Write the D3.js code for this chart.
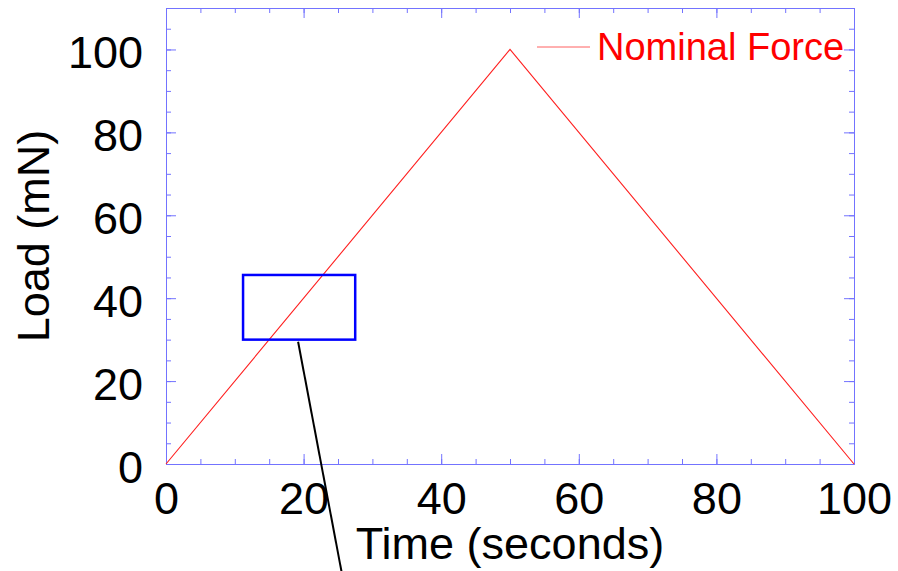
<!DOCTYPE html>
<html>
<head>
<meta charset="utf-8">
<script src="https://cdn.jsdelivr.net/npm/d3@7"></script>
<style>
  body { margin: 0; background: #fff; }
  svg { display: block; font-family: "Liberation Sans", Arial, Helvetica, sans-serif; }
  .frame path.domain { stroke: #7373ff; stroke-width: 1; }
  .frame .tick line { stroke: #7373ff; stroke-width: 1; }
  .frame text { fill: #000; font-size: 45px; }
  .force_line { stroke: #ff2020; stroke-width: 1.1; fill: none; }
  .zoom_box { stroke: #0000ff; stroke-width: 2.5; fill: none; }
  .callout { stroke: #000; stroke-width: 2; }
</style>
</head>
<body>
<svg id="chart"></svg>
<script>
// series: nominal force ramp up then down
var timeValues = [0, 50, 100];
var forceValues = [0, 100, 0];

// tick values
var xMajorTicks = [0, 20, 40, 60, 80, 100];
var yMajorTicks = [0, 20, 40, 60, 80, 100];
var xMinorTicks = d3.range(0, 101, 5);
var yMinorTicks = d3.range(0, 111, 5);

// zoom rectangle and callout line, in data units
var zoomBoxX = [11.2, 27.5];
var zoomBoxY = [30, 45.6];
var calloutX = [19.2, 26.2];
var calloutY = [29.5, -32];

var legendLabel = "Nominal Force";

var width = 898, height = 571;
var plotLeft = 166, plotRight = 854, plotTop = 8, plotBottom = 464;

var svg = d3.select("#chart").attr("width", width).attr("height", height);

var x = d3.scaleLinear().domain([0, 100]).range([plotLeft, plotRight]);
var y = d3.scaleLinear().domain([0, 110]).range([plotBottom, plotTop]);

var frame = svg.append("g").attr("class", "frame");

// minor ticks on all four sides, pointing inward
function minorAxis(axis, vals, tr) {
  frame.append("g").attr("transform", tr)
    .call(axis.tickValues(vals).tickSize(-5).tickSizeOuter(0).tickFormat(""));
}
minorAxis(d3.axisBottom(x), xMinorTicks, "translate(0," + plotBottom + ")");
minorAxis(d3.axisTop(x), xMinorTicks, "translate(0," + plotTop + ")");
minorAxis(d3.axisLeft(y), yMinorTicks, "translate(" + plotLeft + ",0)");
minorAxis(d3.axisRight(y), yMinorTicks, "translate(" + plotRight + ",0)");

// major ticks, longer, labels on bottom and left
var xAxis = frame.append("g").attr("transform", "translate(0," + plotBottom + ")")
  .call(d3.axisBottom(x).tickValues(xMajorTicks).tickSize(-10).tickSizeOuter(0).tickFormat(d3.format("d")));
xAxis.selectAll("text").attr("y", 50).attr("dy", 0);

var yAxis = frame.append("g").attr("transform", "translate(" + plotLeft + ",0)")
  .call(d3.axisLeft(y).tickValues(yMajorTicks).tickSize(-10).tickSizeOuter(0).tickFormat(d3.format("d")));
yAxis.selectAll("text").attr("x", -23).attr("dy", 18.5);

frame.append("g").attr("transform", "translate(0," + plotTop + ")")
  .call(d3.axisTop(x).tickValues(xMajorTicks).tickSize(-10).tickSizeOuter(0).tickFormat(""));
frame.append("g").attr("transform", "translate(" + plotRight + ",0)")
  .call(d3.axisRight(y).tickValues(yMajorTicks).tickSize(-10).tickSizeOuter(0).tickFormat(""));
frame.selectAll("path.domain").attr("fill", "none");

// force curve
var line = d3.line().x(function(d, i) { return x(timeValues[i]); }).y(function(d) { return y(d); });
svg.append("path").datum(forceValues).attr("class", "force_line").attr("d", line);

// zoom box
svg.append("rect").attr("class", "zoom_box")
  .attr("x", x(zoomBoxX[0])).attr("y", y(zoomBoxY[1]))
  .attr("width", x(zoomBoxX[1]) - x(zoomBoxX[0]))
  .attr("height", y(zoomBoxY[0]) - y(zoomBoxY[1]));

svg.append("line").attr("class", "callout")
  .attr("x1", x(calloutX[0])).attr("y1", y(calloutY[0]))
  .attr("x2", x(calloutX[1])).attr("y2", y(calloutY[1]));

// legend
svg.append("line")
  .attr("x1", 537).attr("x2", 590).attr("y1", 47).attr("y2", 47)
  .style("stroke", "#ff6060").style("stroke-width", 1);
svg.append("text").attr("x", 597).attr("y", 60)
  .style("fill", "#ff0000").style("font-size", "38px")
  .text(legendLabel);

// axis titles
svg.append("text").attr("x", (plotLeft + plotRight) / 2).attr("y", 559)
  .attr("text-anchor", "middle").style("font-size", "45px")
  .text("Time (seconds)");
svg.append("text")
  .attr("transform", "translate(49," + (plotTop + plotBottom) / 2 + ") rotate(-90)")
  .attr("text-anchor", "middle").style("font-size", "45px")
  .text("Load (mN)");
</script>
</body>
</html>
